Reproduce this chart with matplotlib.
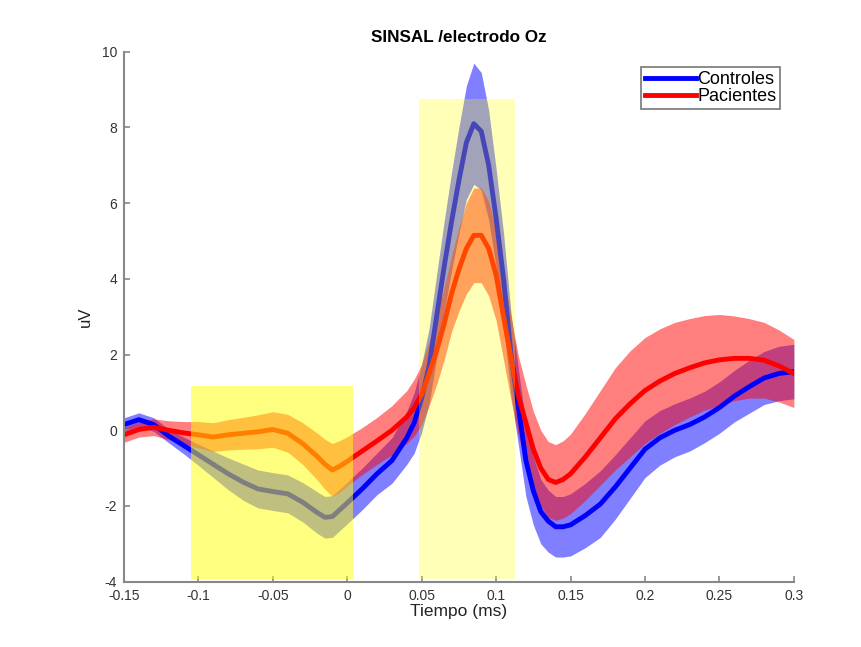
"""SINSAL / electrodo Oz: mean ERP with shaded error bands for two groups."""

import matplotlib
matplotlib.use('Agg')
import matplotlib.pyplot as plt
import numpy as np

plt.rcParams['font.family'] = ['Liberation Sans', 'DejaVu Sans']
plt.rcParams['axes.unicode_minus'] = False

# Time points (s, labelled ms in the original)
t = [-0.15, -0.14, -0.13, -0.12, -0.11, -0.10, -0.09, -0.08, -0.07, -0.06,
     -0.05, -0.04, -0.03, -0.02, -0.015, -0.01, -0.005, 0.0, 0.01, 0.02,
     0.03, 0.04, 0.045, 0.05, 0.055, 0.06, 0.065, 0.07, 0.075, 0.08,
     0.085, 0.09, 0.095, 0.10, 0.105, 0.11, 0.115, 0.12, 0.125, 0.13,
     0.135, 0.14, 0.145, 0.15, 0.16, 0.17, 0.18, 0.19, 0.20, 0.21,
     0.22, 0.23, 0.24, 0.25, 0.26, 0.27, 0.28, 0.29, 0.30]

# Controles: mean and half-width of the band
controles_mean = [0.15, 0.28, 0.15, -0.15, -0.4, -0.65, -0.9, -1.15, -1.37, -1.55,
                  -1.62, -1.68, -1.9, -2.18, -2.3, -2.28, -2.1, -1.92, -1.55, -1.15,
                  -0.8, -0.2, 0.2, 0.85, 1.7, 3.0, 4.3, 5.5, 6.6, 7.6,
                  8.1, 7.9, 7.0, 5.6, 4.0, 2.0, 0.6, -0.8, -1.6, -2.15,
                  -2.4, -2.55, -2.55, -2.5, -2.25, -1.95, -1.5, -1.0, -0.5, -0.2,
                  0.0, 0.15, 0.35, 0.6, 0.9, 1.15, 1.38, 1.5, 1.55]
controles_err = [0.18, 0.18, 0.18, 0.18, 0.22, 0.28, 0.35, 0.42, 0.48, 0.5,
                 0.5, 0.5, 0.52, 0.55, 0.55, 0.55, 0.55, 0.55, 0.55, 0.55,
                 0.6, 0.7, 0.8, 0.9, 1.0, 1.1, 1.2, 1.3, 1.4, 1.5,
                 1.6, 1.55, 1.45, 1.3, 1.2, 1.1, 1.0, 0.95, 0.9, 0.85,
                 0.82, 0.8, 0.8, 0.82, 0.85, 0.88, 0.85, 0.8, 0.75, 0.72,
                 0.7, 0.7, 0.68, 0.68, 0.68, 0.7, 0.7, 0.72, 0.72]

# Pacientes: mean and half-width of the band
pacientes_mean = [-0.12, 0.02, 0.08, 0.0, -0.07, -0.12, -0.18, -0.12, -0.08, -0.04,
                  0.02, -0.08, -0.35, -0.7, -0.9, -1.05, -0.95, -0.82, -0.55, -0.28,
                  0.0, 0.35, 0.6, 0.95, 1.5, 2.1, 2.8, 3.6, 4.25, 4.8,
                  5.15, 5.15, 4.8, 4.1, 3.0, 1.9, 0.9, 0.2, -0.5, -1.0,
                  -1.3, -1.38, -1.3, -1.15, -0.7, -0.2, 0.3, 0.7, 1.05, 1.3,
                  1.5, 1.65, 1.78, 1.86, 1.9, 1.9, 1.85, 1.7, 1.5]
pacientes_err = [0.2, 0.2, 0.22, 0.25, 0.3, 0.35, 0.38, 0.4, 0.42, 0.45,
                 0.47, 0.5, 0.55, 0.62, 0.66, 0.7, 0.68, 0.65, 0.62, 0.62,
                 0.65, 0.7, 0.75, 0.8, 0.85, 0.9, 0.95, 1.0, 1.1, 1.2,
                 1.25, 1.25, 1.25, 1.2, 1.15, 1.1, 1.05, 1.0, 1.0, 1.0,
                 1.0, 1.0, 1.02, 1.05, 1.15, 1.25, 1.35, 1.4, 1.4, 1.38,
                 1.35, 1.3, 1.25, 1.2, 1.12, 1.05, 1.0, 0.95, 0.9]

# Highlighted windows: (t start, t end, y bottom, y top, opacity)
windows = [(-0.105, 0.004, -3.94, 1.17, 0.5),
           (0.048, 0.113, -3.94, 8.74, 0.28)]

t = np.array(t)
fig = plt.figure(figsize=(8.61, 6.47), dpi=100)
ax = fig.add_axes([0.144, 0.101, 0.778, 0.819])

# Controles band and line
cm, ce = np.array(controles_mean), np.array(controles_err)
ax.fill_between(t, cm - ce, cm + ce, color='blue', alpha=0.5, linewidth=0)
line_c, = ax.plot(t, cm, color='blue', linewidth=3.5, label='Controles')

# Pacientes band and line
pm, pe = np.array(pacientes_mean), np.array(pacientes_err)
ax.fill_between(t, pm - pe, pm + pe, color='red', alpha=0.5, linewidth=0)
line_p, = ax.plot(t, pm, color='red', linewidth=3.5, label='Pacientes')

# Yellow windows on top
for t0, t1, y0, y1, a in windows:
    ax.fill_between([t0, t1], [y0, y0], [y1, y1], color='yellow', alpha=a,
                    linewidth=0, zorder=5)

ax.set_xlim(-0.15, 0.3)
ax.set_ylim(-4, 10)
ax.set_xticks([-0.15, -0.1, -0.05, 0, 0.05, 0.1, 0.15, 0.2, 0.25, 0.3])
ax.set_xticklabels(['-0.15', '-0.1', '-0.05', '0', '0.05', '0.1', '0.15', '0.2', '0.25', '0.3'])
ax.set_yticks([-4, -2, 0, 2, 4, 6, 8, 10])

for side in ['top', 'right']:
    ax.spines[side].set_visible(False)
for side in ['left', 'bottom']:
    ax.spines[side].set_color('#888888')
    ax.spines[side].set_linewidth(1.5)
ax.tick_params(direction='in', length=4, width=1.2, color='#888888',
               labelcolor='#333333', labelsize=10)
ax.tick_params(axis='y', pad=5)
ax.tick_params(axis='x', pad=5)

ax.set_title('SINSAL /electrodo Oz', fontsize=12.3, fontweight='bold', pad=7)
ax.set_xlabel('Tiempo (ms)', fontsize=12.5, color='#222222', labelpad=1)
ax.set_ylabel('uV', fontsize=12, color='#222222', labelpad=6)

leg = ax.legend(handles=[line_c, line_p], loc='upper right',
                bbox_to_anchor=(0.906, 0.896), bbox_transform=fig.transFigure,
                borderaxespad=0, fontsize=13, labelspacing=0.0,
                handlelength=2.8, handletextpad=0.1, borderpad=0.2,
                fancybox=False, framealpha=1)
leg.get_frame().set_edgecolor('#777777')
leg.get_frame().set_linewidth(1.2)

fig.savefig('out.png', dpi=100)
